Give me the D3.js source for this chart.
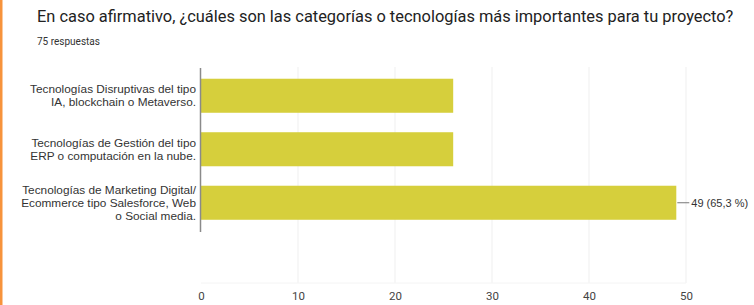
<!DOCTYPE html>
<html>
<head>
<meta charset="utf-8">
<script src="https://cdn.jsdelivr.net/npm/d3@7"></script>
<style>
  body { margin: 0; background: #fff; }
  #chart { width: 754px; height: 305px; }
</style>
</head>
<body>
<div id="chart"></div>
<script>
// data
const categories = [
	["Tecnologías Disruptivas del tipo", "IA, blockchain o Metaverso."],
	["Tecnologías de Gestión del tipo", "ERP o computación en la nube."],
	["Tecnologías de Marketing Digital/", "Ecommerce tipo Salesforce, Web", "o Social media."]
];
const values = [26, 26, 49];
const labels = [null, null, "49 (65,3 %)"];
const tickValues = [0, 10, 20, 30, 40, 50];

const title = "En caso afirmativo, ¿cuáles son las categorías o tecnologías más importantes para tu proyecto?";
const subtitle = "75 respuestas";

const roboto = "Roboto, sans-serif";
const arial = "'Liberation Sans', Arial, sans-serif";

const width = 754, height = 305;
const svg = d3.select("#chart").append("svg")
	.attr("width", width)
	.attr("height", height);

// orange left edge
svg.append("rect")
	.attr("x", 0).attr("y", 0)
	.attr("width", 2.5).attr("height", height)
	.attr("fill", "#f7933c");

svg.append("text")
	.attr("x", 37).attr("y", 22)
	.style("font-family", roboto)
	.style("font-size", "16.4px")
	.attr("fill", "#222")
	.text(title);

svg.append("text")
	.attr("x", 37).attr("y", 45)
	.style("font-family", roboto)
	.style("font-size", "10px")
	.attr("fill", "#333")
	.text(subtitle);

const x = d3.scaleLinear().domain([0, 50]).range([201, 686]);
const y = d3.scaleBand()
	.domain(d3.range(values.length))
	.range([69, 229.5])
	.paddingInner(0.364)
	.paddingOuter(0.182);

// gridlines
svg.append("g")
	.selectAll("line")
	.data(tickValues.slice(1))
	.join("line")
	.attr("x1", (d) => x(d)).attr("x2", (d) => x(d))
	.attr("y1", 67).attr("y2", 283)
	.attr("stroke", "#f4f4f4")
	.attr("stroke-width", 1.5);

svg.append("line")
	.attr("x1", 201).attr("x2", 686)
	.attr("y1", 283).attr("y2", 283)
	.attr("stroke", "#f4f4f4");

// bars
svg.append("g")
	.selectAll("rect")
	.data(values)
	.join("rect")
	.attr("x", x(0))
	.attr("y", (d, i) => y(i))
	.attr("width", (d) => x(d) - x(0))
	.attr("height", y.bandwidth())
	.attr("fill", "#d6cf3c");

// vertical axis line
svg.append("line")
	.attr("x1", 200.5).attr("x2", 200.5)
	.attr("y1", 68).attr("y2", 232)
	.attr("stroke", "#8a8a8a")
	.attr("stroke-width", 1.5);

// category labels
const cat = svg.append("g");
categories.forEach((lines, i) => {
	const cy = y(i) + y.bandwidth() / 2;
	const lh = 13;
	const start = cy - ((lines.length - 1) * lh) / 2;
	lines.forEach((ln, j) => {
		cat.append("text")
			.attr("x", 196)
			.attr("y", start + j * lh)
			.attr("dy", "0.35em")
			.attr("text-anchor", "end")
			.style("font-family", arial)
			.style("font-size", "11.8px")
			.attr("fill", "#333")
			.text(ln);
	});
});

// value labels with leader line
values.forEach((v, i) => {
	if (!labels[i]) return;
	const cy = y(i) + y.bandwidth() / 2;
	svg.append("line")
		.attr("x1", x(v) + 1).attr("x2", x(v) + 13)
		.attr("y1", cy).attr("y2", cy)
		.attr("stroke", "#777");
	svg.append("text")
		.attr("x", x(v) + 15)
		.attr("y", cy)
		.attr("dy", "0.35em")
		.style("font-family", arial)
		.style("font-size", "11px")
		.attr("fill", "#333")
		.text(labels[i]);
});

// x axis tick labels
const xAxis = d3.axisBottom(x).tickValues(tickValues).tickSize(0).tickPadding(0);
const gx = svg.append("g")
	.attr("transform", "translate(0,292)")
	.call(xAxis);
gx.select(".domain").remove();
gx.selectAll("text")
	.style("font-family", roboto)
	.style("font-size", "11.5px")
	.attr("fill", "#444");
</script>
</body>
</html>
